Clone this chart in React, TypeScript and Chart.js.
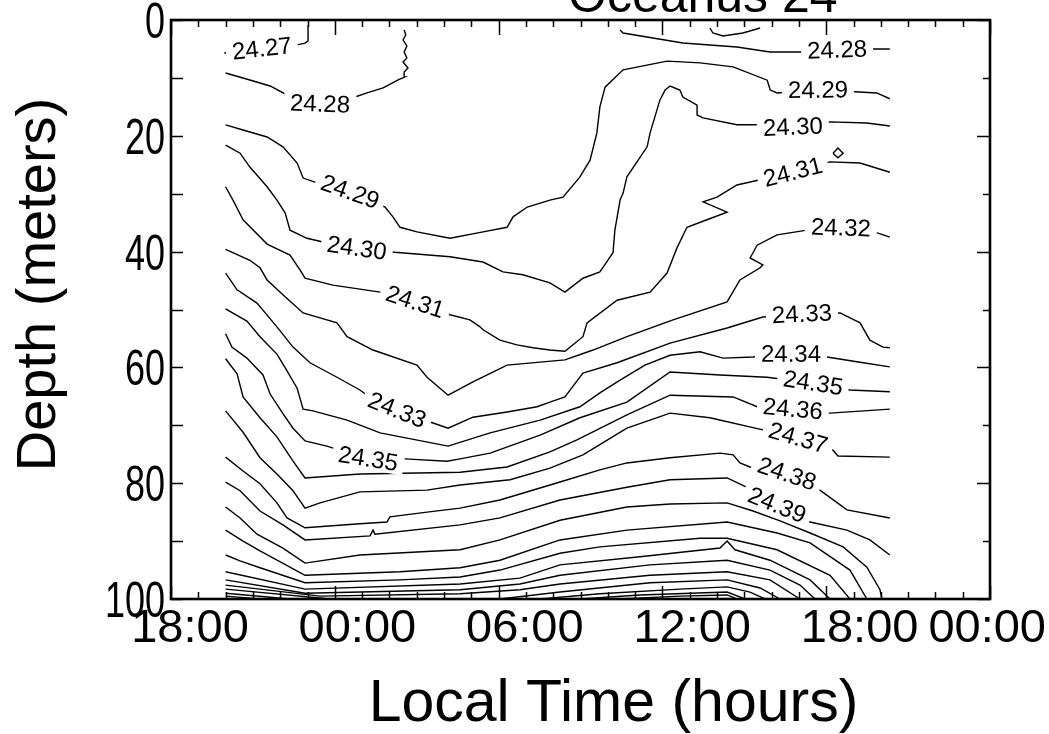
import React, { useEffect, useRef } from "react";
import { Chart, registerables } from "chart.js";

Chart.register(...registerables);

type P = [number, number];

// ---- contour pieces: [local time in hours since 00:00 day 0, depth in meters] ----
const c2427: P[] = [[19.95, 5.7], [22.62, 4.3], [22.91, 4.0], [23.02, 3.6], [23.02, 0.9]];
const c2428a: P[] = [[20.0, 9.15], [20.89, 10.36], [21.63, 11.4], [22.25, 12.95], [23.46, 14.5], [24.74, 13.3], [25.18, 12.6], [25.77, 11.74], [26.32, 10.36], [26.57, 9.84], [26.54, 8.98], [26.68, 8.29], [26.5, 7.25], [26.64, 6.56], [26.54, 5.53], [26.64, 4.49], [26.5, 3.45], [26.6, 2.59], [26.54, 1.73]];
const c2428b: P[] = [[34.45, 1.73], [34.56, 2.25], [36.75, 3.97], [38.73, 4.66], [39.94, 5.53], [41.04, 5.53], [42.4, 5.18], [43.79, 5.0], [44.33, 5.0]];
const c2428c: P[] = [[37.74, 1.38], [37.85, 2.25], [38.22, 2.76], [38.95, 2.25], [39.58, 1.38]];
const c2429: P[] = [[20.0, 18.1], [20.64, 19.0], [21.52, 20.2], [22.1, 21.9], [22.62, 24.7], [22.84, 27.3], [23.27, 28.0], [24.56, 29.7], [25.84, 32.3], [26.13, 34.0], [26.39, 35.8], [27.01, 36.6], [28.22, 37.7], [29.43, 36.6], [30.31, 35.8], [30.53, 34.0], [31.05, 32.3], [31.88, 31.1], [32.36, 30.6], [32.98, 27.1], [33.35, 24.2], [33.6, 19.5], [33.71, 15.0], [33.9, 11.6], [34.56, 8.6], [36.17, 7.1], [37.38, 7.4], [38.59, 8.1], [39.84, 10.4], [39.95, 12.1], [40.2, 12.6], [41.7, 12.1], [43.05, 12.4], [43.85, 12.6], [44.33, 13.6]];
const c2430: P[] = [[20.0, 21.6], [20.53, 23.0], [20.89, 25.4], [21.52, 28.8], [21.88, 31.1], [22.18, 33.3], [22.36, 36.3], [22.98, 37.7], [23.53, 38.3], [24.81, 39.4], [26.2, 40.1], [28.22, 40.9], [29.43, 41.8], [30.16, 43.5], [30.89, 44.0], [31.88, 45.4], [32.43, 47.0], [33.09, 44.6], [33.71, 43.5], [34.19, 40.2], [34.26, 36.3], [34.45, 31.1], [34.56, 29.9], [34.7, 27.1], [35.44, 21.9], [35.55, 19.5], [35.91, 13.8], [36.1, 12.1], [36.28, 11.4], [36.64, 12.1], [36.75, 13.3], [37.27, 14.7], [37.27, 16.4], [37.49, 16.9], [38.73, 18.1], [39.47, 18.1], [40.78, 18.5], [42.13, 17.6], [43.49, 17.8], [44.33, 18.3]];
const c2431: P[] = [[20.0, 28.8], [20.27, 31.1], [20.64, 34.5], [21.52, 38.7], [22.36, 40.6], [22.73, 43.2], [22.91, 44.6], [23.93, 45.8], [25.66, 47.0], [26.94, 48.7], [28.22, 50.9], [28.95, 51.8], [29.32, 53.0], [29.43, 53.5], [30.05, 55.3], [30.67, 56.1], [31.26, 56.6], [31.88, 57.0], [32.43, 57.2], [33.09, 54.7], [33.24, 52.3], [34.34, 48.4], [35.55, 47.0], [36.17, 43.7], [36.53, 39.4], [36.9, 35.8], [37.63, 34.5], [38.37, 33.2], [37.49, 31.4], [38.0, 30.6], [38.73, 28.5], [39.58, 27.6], [40.78, 26.3], [42.13, 24.5], [43.24, 24.7], [44.33, 26.3]];
const c2431d: P[] = [[42.25, 23.0], [42.43, 22.1], [42.62, 23.0], [42.43, 23.8], [42.25, 23.0]];
const c2432: P[] = [[20.0, 39.6], [20.89, 41.5], [21.26, 42.8], [21.52, 44.9], [22.18, 47.8], [22.84, 50.6], [24.08, 52.3], [24.45, 54.7], [25.4, 57.0], [27.01, 59.6], [27.38, 61.7], [28.15, 64.8], [29.06, 62.5], [30.31, 59.6], [32.43, 58.7], [33.46, 57.0], [34.7, 54.7], [36.39, 51.8], [38.37, 48.7], [38.84, 44.9], [39.58, 42.8], [39.68, 42.3], [39.21, 41.1], [39.32, 40.2], [39.47, 38.9], [40.2, 37.1], [41.3, 36.3], [42.54, 35.9], [43.9, 36.8], [44.33, 37.5]];
const c2433: P[] = [[20.0, 43.7], [20.42, 46.6], [21.15, 48.9], [21.88, 53.0], [22.47, 56.5], [23.09, 59.2], [24.08, 61.7], [24.92, 63.9], [25.18, 64.8], [26.28, 67.4], [27.6, 69.6], [28.15, 70.5], [29.06, 68.6], [30.31, 67.7], [31.41, 66.8], [31.88, 66.0], [32.43, 65.1], [33.09, 61.0], [34.34, 59.2], [36.28, 55.8], [38.37, 53.2], [39.68, 51.3], [41.11, 50.8], [42.51, 50.6], [43.24, 52.3], [43.6, 55.3], [44.08, 56.5], [44.33, 56.6]];
const c2434: P[] = [[20.0, 49.9], [20.78, 52.0], [21.26, 54.7], [21.88, 57.7], [22.25, 60.6], [22.62, 63.6], [22.84, 67.2], [23.2, 67.5], [24.45, 69.1], [25.66, 71.3], [28.15, 73.6], [29.69, 71.3], [31.52, 69.1], [32.98, 66.8], [33.71, 64.4], [34.45, 62.2], [35.36, 59.6], [36.28, 57.9], [37.38, 57.3], [38.22, 58.4], [39.32, 58.2], [40.71, 57.7], [42.03, 58.2], [43.24, 59.1], [44.33, 59.9]];
const c2435: P[] = [[20.0, 54.2], [20.23, 56.5], [20.78, 58.4], [21.37, 61.3], [21.63, 64.6], [22.1, 68.0], [22.47, 70.5], [22.91, 72.7], [23.71, 73.6], [25.22, 75.8], [26.57, 75.8], [28.11, 76.2], [28.59, 75.8], [29.69, 74.8], [31.52, 71.7], [32.98, 68.7], [34.7, 66.0], [36.28, 60.8], [38.11, 61.3], [39.83, 61.7], [41.52, 62.7], [42.87, 63.9], [44.33, 64.2]];
const c2436: P[] = [[20.0, 58.5], [20.42, 61.1], [20.64, 65.1], [21.26, 68.7], [21.88, 72.0], [22.47, 76.2], [22.91, 79.1], [24.92, 78.4], [28.59, 78.1], [30.31, 77.2], [31.88, 74.6], [32.87, 72.5], [34.7, 68.2], [36.28, 64.8], [38.59, 65.1], [39.47, 66.8], [40.78, 67.2], [42.14, 67.9], [44.33, 67.2]];
const c2437: P[] = [[20.0, 67.5], [20.64, 71.2], [21.26, 75.6], [21.88, 78.4], [22.47, 81.3], [22.91, 84.3], [23.46, 83.4], [24.92, 81.5], [27.38, 81.2], [28.59, 80.3], [30.42, 79.4], [31.88, 77.4], [33.09, 75.1], [34.7, 70.5], [36.28, 67.9], [37.74, 68.7], [39.68, 70.8], [40.97, 72.2], [42.25, 74.3], [42.43, 75.3], [44.33, 75.5]];
const c2438: P[] = [[20.0, 75.5], [20.64, 77.9], [21.26, 80.1], [21.88, 83.4], [22.25, 86.0], [22.91, 87.7], [24.92, 87.0], [25.91, 86.7], [26.02, 85.8], [27.38, 85.0], [28.59, 84.3], [30.05, 82.9], [32.25, 79.8], [33.71, 77.7], [34.7, 76.5], [36.28, 75.6], [38.11, 74.8], [38.59, 75.1], [38.84, 76.5], [39.21, 77.2], [40.56, 78.4], [41.77, 81.2], [42.76, 84.6], [44.33, 86.0]];
const c2439: P[] = [[20.0, 79.8], [20.53, 81.3], [21.26, 84.8], [22.1, 87.2], [22.91, 89.8], [25.29, 89.1], [25.4, 88.1], [25.47, 88.8], [28.59, 87.2], [30.05, 86.0], [32.25, 82.9], [34.7, 80.7], [36.28, 79.4], [38.37, 79.1], [39.1, 80.7], [40.2, 83.8], [41.41, 86.7], [42.76, 88.1], [43.6, 89.8], [44.33, 92.4]];
const c2440: P[] = [[20.0, 84.1], [20.53, 86.0], [21.15, 88.8], [22.1, 91.2], [22.91, 93.8], [24.92, 92.4], [28.59, 91.5], [30.05, 89.8], [32.25, 86.4], [34.7, 84.1], [36.28, 83.6], [38.37, 83.4], [39.32, 84.8], [40.31, 86.5], [41.41, 88.6], [42.62, 91.0], [43.49, 94.5], [43.97, 98.4], [44.04, 100]];
const c2441: P[] = [[20.0, 88.1], [20.64, 90.0], [21.26, 91.7], [22.91, 95.9], [26.39, 95.3], [28.59, 94.6], [30.05, 93.3], [32.25, 89.8], [34.7, 88.1], [38.37, 86.7], [40.2, 88.6], [41.41, 90.3], [42.87, 95.0], [43.49, 100]];
const c2442: P[] = [[20.0, 92.4], [20.53, 93.4], [21.26, 94.6], [22.91, 97.2], [26.39, 96.7], [28.59, 96.2], [30.05, 95.0], [32.25, 92.1], [33.71, 91.0], [37.38, 89.5], [38.37, 89.5], [40.2, 91.5], [42.14, 95.9], [42.87, 100]];
const c2443: P[] = [[20.0, 95.3], [22.91, 98.3], [28.59, 97.4], [30.78, 96.4], [32.25, 94.1], [35.18, 92.7], [38.11, 91.2], [38.37, 90.0], [38.66, 91.5], [39.94, 93.3], [41.41, 96.7], [42.14, 100]];
const c2444: P[] = [[20.0, 96.7], [22.91, 99.0], [28.59, 98.4], [30.78, 97.4], [32.25, 95.9], [35.55, 94.1], [38.37, 93.3], [39.94, 95.0], [41.04, 97.6], [41.59, 100]];
const c2445: P[] = [[20.0, 97.6], [23.46, 99.5], [28.59, 99.1], [30.78, 98.4], [32.25, 97.4], [35.55, 95.9], [38.37, 95.3], [39.94, 96.7], [41.04, 100]];
const c2446a: P[] = [[20.0, 98.3], [23.82, 100]];
const c2446b: P[] = [[30.05, 100], [32.25, 98.8], [35.55, 97.2], [38.37, 96.7], [39.58, 98.1], [40.31, 100]];
const c2447a: P[] = [[20.0, 99.0], [22.36, 100]];
const c2447b: P[] = [[31.52, 100], [33.71, 99.1], [36.64, 98.3], [38.37, 97.9], [39.21, 98.8], [39.76, 100]];
const c2448a: P[] = [[20.0, 99.5], [21.26, 100]];
const c2448b: P[] = [[32.98, 100], [35.18, 99.3], [38.37, 98.8], [39.03, 100]];
const c2449: P[] = [[34.45, 100], [36.64, 99.5], [38.37, 99.3], [38.73, 100]];

const contourLevels: string[] = [
  "24.27", "24.28", "24.28", "24.28", "24.29", "24.30", "24.31", "24.31", "24.32", "24.33",
  "24.34", "24.35", "24.36", "24.37", "24.38", "24.39", "24.40", "24.41", "24.42", "24.43",
  "24.44", "24.45", "24.46", "24.46", "24.47", "24.47", "24.48", "24.48", "24.49",
];
const contourPieces: P[][] = [
  c2427, c2428a, c2428b, c2428c, c2429, c2430, c2431, c2431d, c2432, c2433,
  c2434, c2435, c2436, c2437, c2438, c2439, c2440, c2441, c2442, c2443,
  c2444, c2445, c2446a, c2446b, c2447a, c2447b, c2448a, c2448b, c2449,
];

// ---- inline contour labels (level, hour at which it sits on its line) ----
const labelLevels: string[] = ["24.27", "24.28", "24.28", "24.29", "24.29", "24.30", "24.30", "24.31", "24.31", "24.32", "24.33", "24.33", "24.34", "24.35", "24.35", "24.36", "24.37", "24.38", "24.39"];
const labelHours: number[] = [21.33, 23.46, 42.4, 24.56, 41.7, 24.81, 40.78, 26.94, 40.78, 42.54, 26.28, 41.11, 40.71, 25.22, 41.52, 40.78, 40.97, 40.56, 40.2];

// ---- axes ----
const xTickHours: number[] = [18, 24, 30, 36, 42, 48];
const xTickLabels: string[] = ["18:00", "00:00", "06:00", "12:00", "18:00", "00:00"];
const yTickDepths: number[] = [0, 20, 40, 60, 80, 100];
const titleText = "Oceanus 24";
const xAxisTitle = "Local Time (hours)";
const yAxisTitle = "Depth (meters)";

const FONT = '"Liberation Sans", Helvetica, Arial, sans-serif';

function yOnPath(pix: number[][], x: number): number | null {
  for (let i = 0; i < pix.length - 1; i++) {
    const [x0, y0] = pix[i];
    const [x1, y1] = pix[i + 1];
    const lo = Math.min(x0, x1);
    const hi = Math.max(x0, x1);
    if (x >= lo && x <= hi) {
      if (hi - lo < 1e-6) return (y0 + y1) / 2;
      return y0 + ((y1 - y0) * (x - x0)) / (x1 - x0);
    }
  }
  return null;
}

const decorPlugin = {
  id: "decor",
  afterDatasetsDraw(chart: any) {
    const ctx: CanvasRenderingContext2D = chart.ctx;
    const xs = chart.scales.x;
    const ys = chart.scales.y;
    ctx.save();
    ctx.font = `24px ${FONT}`;
    labelLevels.forEach((lev, i) => {
      const px = xs.getPixelForValue(labelHours[i]);
      for (let k = 0; k < contourPieces.length; k++) {
        if (contourLevels[k] !== lev) continue;
        const pix = contourPieces[k].map(([h, d]) => [xs.getPixelForValue(h), ys.getPixelForValue(d)]);
        const py = yOnPath(pix, px);
        if (py === null) continue;
        const yl = yOnPath(pix, px - 30) ?? py;
        const yr = yOnPath(pix, px + 30) ?? py;
        const lim = (22 * Math.PI) / 180;
        let a = Math.atan2(yr - yl, 60);
        a = Math.max(-lim, Math.min(lim, a));
        const w = ctx.measureText(lev).width;
        ctx.save();
        ctx.translate(px, py);
        ctx.rotate(a);
        ctx.fillStyle = "#fff";
        ctx.fillRect(-w / 2 - 6, -11, w + 12, 22);
        ctx.fillStyle = "#000";
        ctx.textAlign = "center";
        ctx.textBaseline = "middle";
        ctx.fillText(lev, 0, 1);
        ctx.restore();
        break;
      }
    });
    ctx.restore();
  },
  afterDraw(chart: any) {
    const ctx: CanvasRenderingContext2D = chart.ctx;
    const xs = chart.scales.x;
    const ys = chart.scales.y;
    const ca = chart.chartArea;
    ctx.save();
    ctx.strokeStyle = "#000";
    ctx.fillStyle = "#000";

    // ticks (inward)
    ctx.lineWidth = 1.5;
    ctx.beginPath();
    for (let h = xs.min; h <= xs.max; h += 1) {
      const x = Math.round(xs.getPixelForValue(h)) + 0.5;
      const major = (h - xs.min) % 6 === 0;
      ctx.moveTo(x, ca.bottom);
      ctx.lineTo(x, ca.bottom - (major ? 13 : 7));
      ctx.moveTo(x, ca.top);
      ctx.lineTo(x, ca.top + (major ? 15 : 7));
    }
    for (let d = ys.min; d <= ys.max; d += 10) {
      const y = Math.round(ys.getPixelForValue(d)) + 0.5;
      ctx.moveTo(ca.left, y);
      ctx.lineTo(ca.left + 12, y);
      ctx.moveTo(ca.right, y);
      ctx.lineTo(ca.right - (d % 20 === 0 ? 13 : 7), y);
    }
    ctx.stroke();

    // frame
    ctx.lineWidth = 2.6;
    ctx.strokeRect(ca.left, ca.top, ca.right - ca.left, ca.bottom - ca.top);

    // y tick labels (condensed)
    ctx.font = `50px ${FONT}`;
    ctx.textAlign = "right";
    ctx.textBaseline = "alphabetic";
    yTickDepths.forEach((v) => {
      const y = ys.getPixelForValue(v);
      ctx.save();
      ctx.translate(ca.left - 6, y + 18);
      ctx.scale(0.72, 1);
      ctx.fillText(String(v), 0, 0);
      ctx.restore();
    });

    // x tick labels
    ctx.font = `47px ${FONT}`;
    ctx.textAlign = "center";
    const W = chart.width;
    xTickHours.forEach((h, i) => {
      const w = ctx.measureText(xTickLabels[i]).width;
      let cx = xs.getPixelForValue(h) + 19 + 0.6 * (h - xs.min);
      if (cx + w / 2 > W - 3) cx = W - 3 - w / 2;
      ctx.fillText(xTickLabels[i], cx, ca.bottom + 43);
    });

    // axis titles
    ctx.font = `59px ${FONT}`;
    ctx.textAlign = "center";
    ctx.fillText(xAxisTitle, (ca.left + ca.right) / 2 + 33, ca.bottom + 122);
    ctx.font = `56px ${FONT}`;
    ctx.save();
    ctx.translate(55, (ca.top + ca.bottom) / 2 - 25);
    ctx.rotate(-Math.PI / 2);
    ctx.fillText(yAxisTitle, 0, 0);
    ctx.restore();

    // title (cut off by top of the page)
    ctx.font = `50px ${FONT}`;
    ctx.textAlign = "left";
    ctx.fillText(titleText, 568, 12);
    ctx.restore();
  },
};

export default function App() {
  const ref = useRef<HTMLCanvasElement | null>(null);
  useEffect(() => {
    if (!ref.current) return;
    const chart = new Chart(ref.current, {
      type: "scatter",
      data: {
        datasets: contourPieces.map((pts, i) => ({
          label: contourLevels[i],
          data: pts.map(([x, y]) => ({ x, y })),
          showLine: true,
          borderColor: "#000",
          borderWidth: 1.4,
          pointRadius: 0,
          pointHoverRadius: 0,
          fill: false,
          tension: 0,
        })),
      },
      options: {
        responsive: false,
        animation: false,
        events: [],
        devicePixelRatio: 1,
        layout: { padding: { left: 171, top: 20, right: 59, bottom: 135 } },
        plugins: { legend: { display: false }, tooltip: { enabled: false }, title: { display: false } },
        scales: {
          x: { type: "linear", min: 18, max: 48, display: false },
          y: { type: "linear", min: 0, max: 100, reverse: true, display: false },
        },
      } as any,
      plugins: [decorPlugin],
    });
    return () => chart.destroy();
  }, []);
  return (
    <div style={{ position: "fixed", left: 0, top: 0, width: 1049, height: 734, background: "#fff" }}>
      <canvas ref={ref} width={1049} height={734} style={{ display: "block" }} />
    </div>
  );
}
